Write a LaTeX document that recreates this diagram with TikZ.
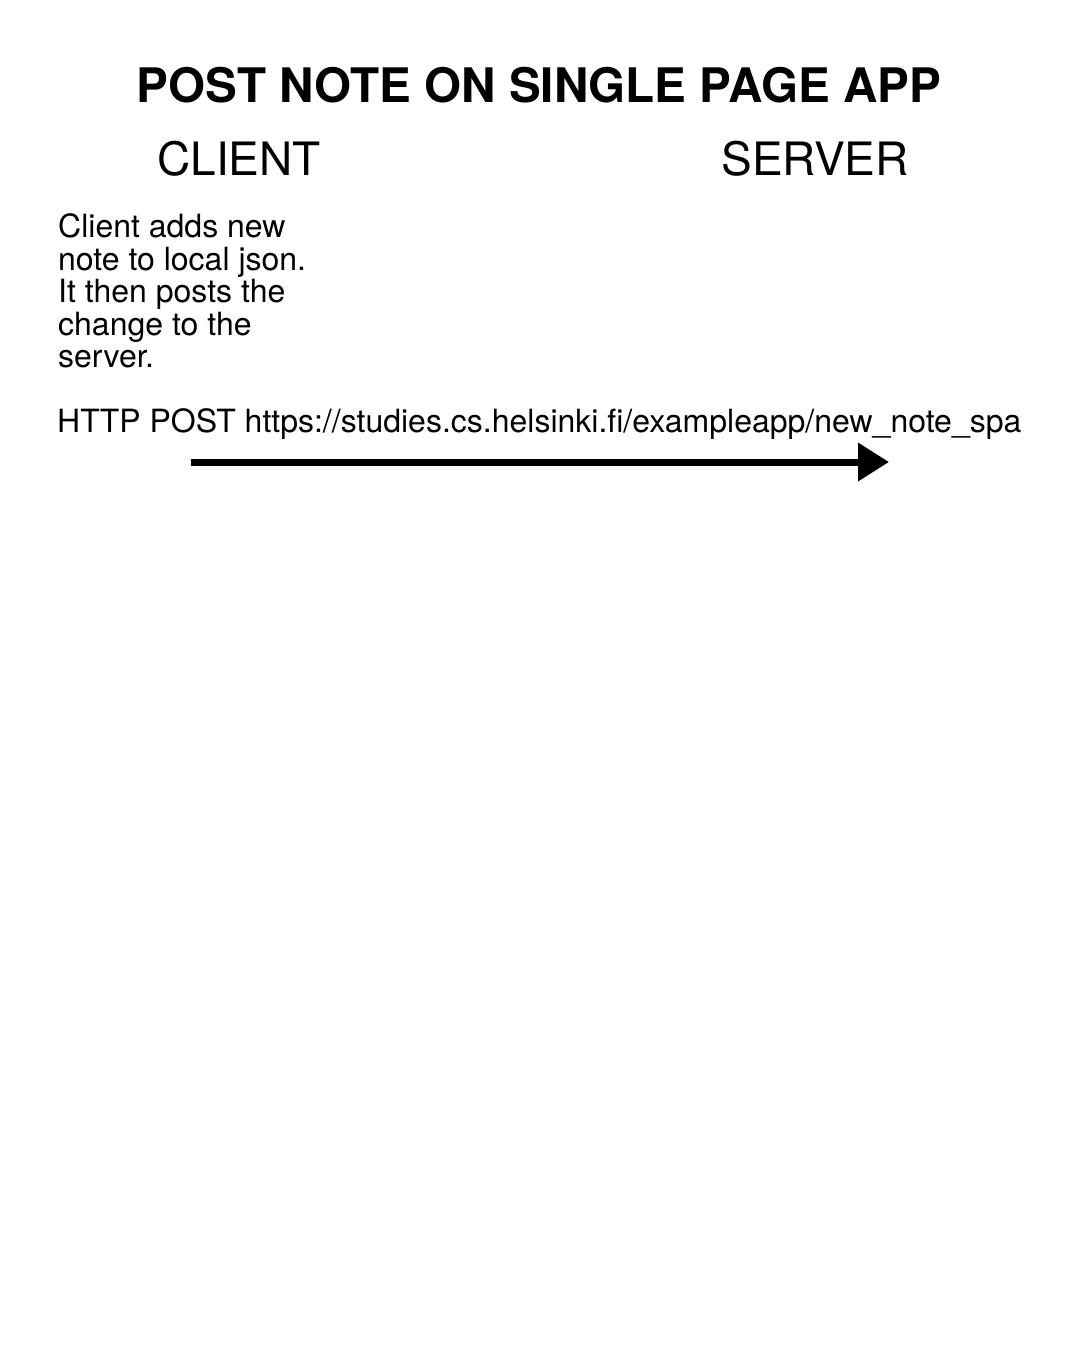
\documentclass[tikz,border=0pt]{standalone}
\usepackage{fontspec}
\setmainfont[Ligatures=NoCommon]{TeX Gyre Heros}
\usetikzlibrary{arrows.meta}
\tikzset{
  title/.style={inner sep=0pt, anchor=base, font=\fontsize{47.6}{56}\selectfont\bfseries},
  actor/.style={inner sep=0pt, anchor=base, font=\fontsize{46}{54}\selectfont},
  body/.style={inner sep=0pt, anchor=base west, font=\fontsize{32}{36}\selectfont},
  msg/.style={line width=7pt, -{Triangle[length=31pt,width=37pt]}}
}
\begin{document}
\begin{tikzpicture}[x=1pt,y=-1pt]
\useasboundingbox[fill=white] (0,0) rectangle (1080,1350);
\node[title] (title) at (539,102) {POST NOTE ON SINGLE PAGE APP};
\node[actor] (client) at (239,175) {CLIENT};
\node[actor] (server) at (815,175) {SERVER};
\node[body] (l1) at (58,237) {Client adds new};
\node[body] (l2) at (58,270) {note to local json.};
\node[body] (l3) at (58,302) {It then posts the};
\node[body] (l4) at (58,335) {change to the};
\node[body] (l5) at (58,367) {server.};
\node[body] (req) at (57,432) {HTTP POST https://studies.cs.helsinki.fi/exampleapp/new\_note\_spa};
\coordinate (from) at (191,462);
\coordinate (to) at (889,462);
\draw[msg] (from) -- (to);
\end{tikzpicture}
\end{document}
